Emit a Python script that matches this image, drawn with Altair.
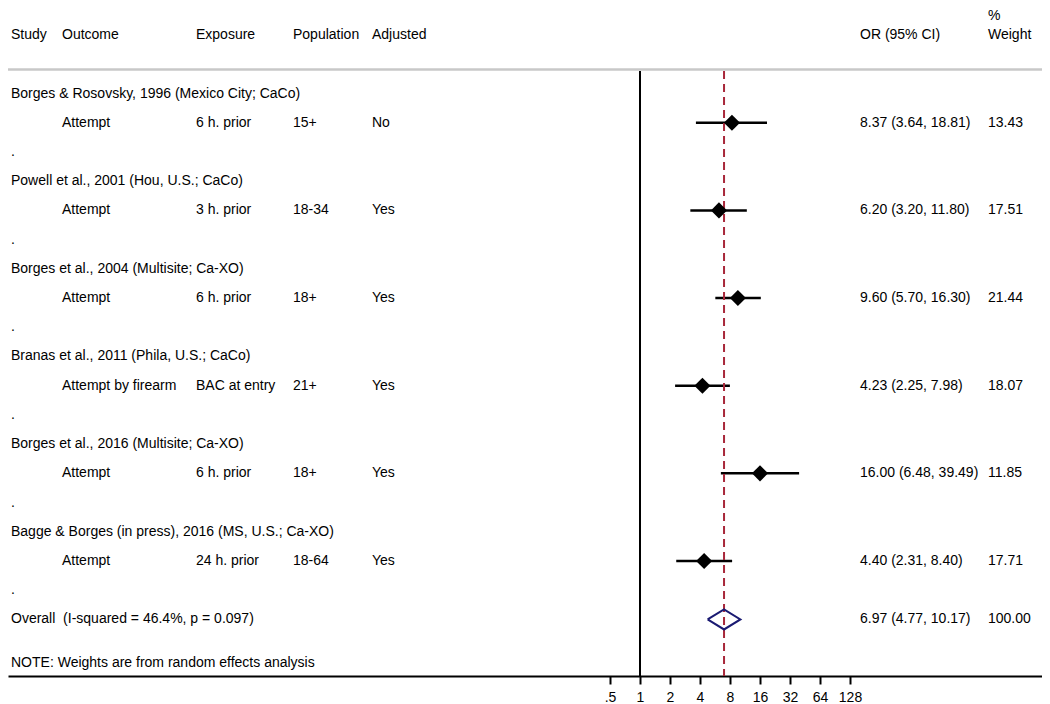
import altair as alt
import pandas as pd

# ---------------- data ----------------
studies = [
    "Borges & Rosovsky, 1996 (Mexico City; CaCo)",
    "Powell et al., 2001 (Hou, U.S.; CaCo)",
    "Borges et al., 2004 (Multisite; Ca-XO)",
    "Branas et al., 2011 (Phila, U.S.; CaCo)",
    "Borges et al., 2016 (Multisite; Ca-XO)",
    "Bagge & Borges (in press), 2016 (MS, U.S.; Ca-XO)",
]
outcomes = ["Attempt", "Attempt", "Attempt", "Attempt by firearm", "Attempt", "Attempt"]
exposures = ["6 h. prior", "3 h. prior", "6 h. prior", "BAC at entry", "6 h. prior", "24 h. prior"]
populations = ["15+", "18-34", "18+", "21+", "18+", "18-64"]
adjusted = ["No", "Yes", "Yes", "Yes", "Yes", "Yes"]
or_est = [8.37, 6.20, 9.60, 4.23, 16.00, 4.40]
ci_lo = [3.64, 3.20, 5.70, 2.25, 6.48, 2.31]
ci_hi = [18.81, 11.80, 16.30, 7.98, 39.49, 8.40]
weights = [13.43, 17.51, 21.44, 18.07, 11.85, 17.71]

overall_label = "Overall \u00a0(I-squared = 46.4%, p = 0.097)"
overall_est = 6.97
overall_lo = 4.77
overall_hi = 10.17
overall_weight = 100.00
note_text = "NOTE: Weights are from random effects analysis"

headers = ["Study", "Outcome", "Exposure", "Population", "Adjusted", "OR (95% CI)", "Weight"]
tick_values = [0.5, 1, 2, 4, 8, 16, 32, 64, 128]

# ---------------- layout ----------------
PLOT_W = 1034
PLOT_H = 668
ROW_PX = 29.22
ROW0_PX = 85.5
d0 = -ROW0_PX / ROW_PX
d1 = d0 + PLOT_H / ROW_PX


def row_of(px):
    return d0 + px / ROW_PX


X_ONE = 632.0
PX_PER_DOUBLING = 30.0
lo_exp = -X_ONE / PX_PER_DOUBLING
hi_exp = (PLOT_W - X_ONE) / PX_PER_DOUBLING
xscale = alt.Scale(type="log", base=2, domain=[2 ** lo_exp, 2 ** hi_exp], nice=False, zero=False)
yscale = alt.Scale(domain=[d0, d1], reverse=True, nice=False, zero=False)

FONT = "Liberation Sans"
FS = 14

xaxis = alt.Axis(
    values=tick_values,
    labelExpr="datum.value == 0.5 ? '.5' : format(datum.value, 'd')",
    title=None, grid=False, orient="bottom",
    domainColor="black", domainWidth=2, tickColor="black", tickWidth=2, tickSize=8,
    labelFont=FONT, labelFontSize=FS, labelColor="black", labelPadding=6,
    labelFlush=False, labelOverlap=False,
)

# ---------------- tables ----------------
n = len(studies)
rows = pd.DataFrame({
    "study": studies,
    "outcome": outcomes,
    "exposure": exposures,
    "population": populations,
    "adjusted": adjusted,
    "est": or_est,
    "lo": ci_lo,
    "hi": ci_hi,
    "weight": [f"{w:.2f}" for w in weights],
    "ci_text": [f"{e:.2f} ({l:.2f}, {h:.2f})" for e, l, h in zip(or_est, ci_lo, ci_hi)],
    "title_row": [3 * i for i in range(n)],
    "data_row": [3 * i + 1 for i in range(n)],
    "dot_row": [3 * i + 2 for i in range(n)],
    "dot": ["."] * n,
})
overall_row = 3 * n

overall_df = pd.DataFrame({
    "label": [overall_label],
    "ci_text": [f"{overall_est:.2f} ({overall_lo:.2f}, {overall_hi:.2f})"],
    "weight": [f"{overall_weight:.2f}"],
    "row": [overall_row],
})

half_h = 10.0 / ROW_PX
diamond_df = pd.DataFrame({
    "x": [overall_lo, overall_est, overall_hi, overall_est, overall_lo],
    "row": [overall_row, overall_row - half_h, overall_row, overall_row + half_h, overall_row],
    "order": [0, 1, 2, 3, 4],
})

COL_STUDY, COL_OUT, COL_EXP, COL_POP, COL_ADJ, COL_OR, COL_W = 3, 54, 188, 285, 364, 852, 980
header_px = [COL_STUDY, COL_OUT, COL_EXP, COL_POP, COL_ADJ, COL_OR, COL_W]
header_df = pd.DataFrame({"text": headers, "row": [row_of(27)] * len(headers)})


def text_layer(df, field, px, row_field):
    return alt.Chart(df).mark_text(
        align="left", baseline="middle", font=FONT, fontSize=FS, color="black"
    ).encode(
        x=alt.value(px),
        y=alt.Y(f"{row_field}:Q", scale=yscale, axis=None),
        text=f"{field}:N",
    )


layers = []

# gray header separator
layers.append(
    alt.Chart(pd.DataFrame({"row": [row_of(61.5)]})).mark_rule(color="#c8c8c8", strokeWidth=2.5).encode(
        x=alt.value(0), x2=alt.value(PLOT_W), y=alt.Y("row:Q", scale=yscale, axis=None)
    )
)

# header texts
for i, px in enumerate(header_px):
    layers.append(text_layer(header_df.iloc[[i]].reset_index(drop=True), "text", px, "row"))
layers.append(text_layer(pd.DataFrame({"text": ["%"], "row": [row_of(8)]}), "text", COL_W, "row"))

# study text columns
layers.append(text_layer(rows, "study", COL_STUDY, "title_row"))
layers.append(text_layer(rows, "outcome", COL_OUT, "data_row"))
layers.append(text_layer(rows, "exposure", COL_EXP, "data_row"))
layers.append(text_layer(rows, "population", COL_POP, "data_row"))
layers.append(text_layer(rows, "adjusted", COL_ADJ, "data_row"))
layers.append(text_layer(rows, "ci_text", COL_OR, "data_row"))
layers.append(text_layer(rows, "weight", COL_W, "data_row"))
layers.append(text_layer(rows, "dot", COL_STUDY, "dot_row"))

# overall texts
layers.append(text_layer(overall_df, "label", COL_STUDY, "row"))
layers.append(text_layer(overall_df, "ci_text", COL_OR, "row"))
layers.append(text_layer(overall_df, "weight", COL_W, "row"))

# note
layers.append(text_layer(pd.DataFrame({"text": [note_text], "row": [row_of(655)]}), "text", COL_STUDY, "row"))

vlines = pd.DataFrame({"v": [1.0, overall_est], "r1": [row_of(63)] * 2, "r2": [d1] * 2})

# null line at OR = 1
layers.append(
    alt.Chart(vlines.iloc[[0]]).mark_rule(color="black", strokeWidth=2).encode(
        x=alt.X("v:Q", scale=xscale, axis=xaxis),
        y=alt.Y("r1:Q", scale=yscale, axis=None),
        y2="r2:Q",
    )
)

# confidence intervals
layers.append(
    alt.Chart(rows).mark_rule(color="black", strokeWidth=2.5).encode(
        x=alt.X("lo:Q", scale=xscale, axis=xaxis),
        x2="hi:Q",
        y=alt.Y("data_row:Q", scale=yscale, axis=None),
    )
)

# overall effect dashed line
layers.append(
    alt.Chart(vlines.iloc[[1]]).mark_rule(color="#a8283a", strokeWidth=2, strokeDash=[8, 5]).encode(
        x=alt.X("v:Q", scale=xscale, axis=xaxis),
        y=alt.Y("r1:Q", scale=yscale, axis=None),
        y2="r2:Q",
    )
)

# point estimates
layers.append(
    alt.Chart(rows).mark_point(shape="diamond", filled=True, color="black", size=260, opacity=1).encode(
        x=alt.X("est:Q", scale=xscale, axis=xaxis),
        y=alt.Y("data_row:Q", scale=yscale, axis=None),
    )
)

# overall diamond
layers.append(
    alt.Chart(diamond_df).mark_line(color="#1a1a72", strokeWidth=2).encode(
        x=alt.X("x:Q", scale=xscale, axis=xaxis),
        y=alt.Y("row:Q", scale=yscale, axis=None),
        order="order:Q",
    )
)

chart = alt.layer(*layers).properties(
    width=PLOT_W, height=PLOT_H,
    autosize=alt.AutoSizeParams(type="none"),
    padding={"left": 0, "top": 0, "right": 0, "bottom": 27},
).configure_view(stroke=None)

chart.save("out.html", embed_options={"renderer": "svg", "actions": False})
